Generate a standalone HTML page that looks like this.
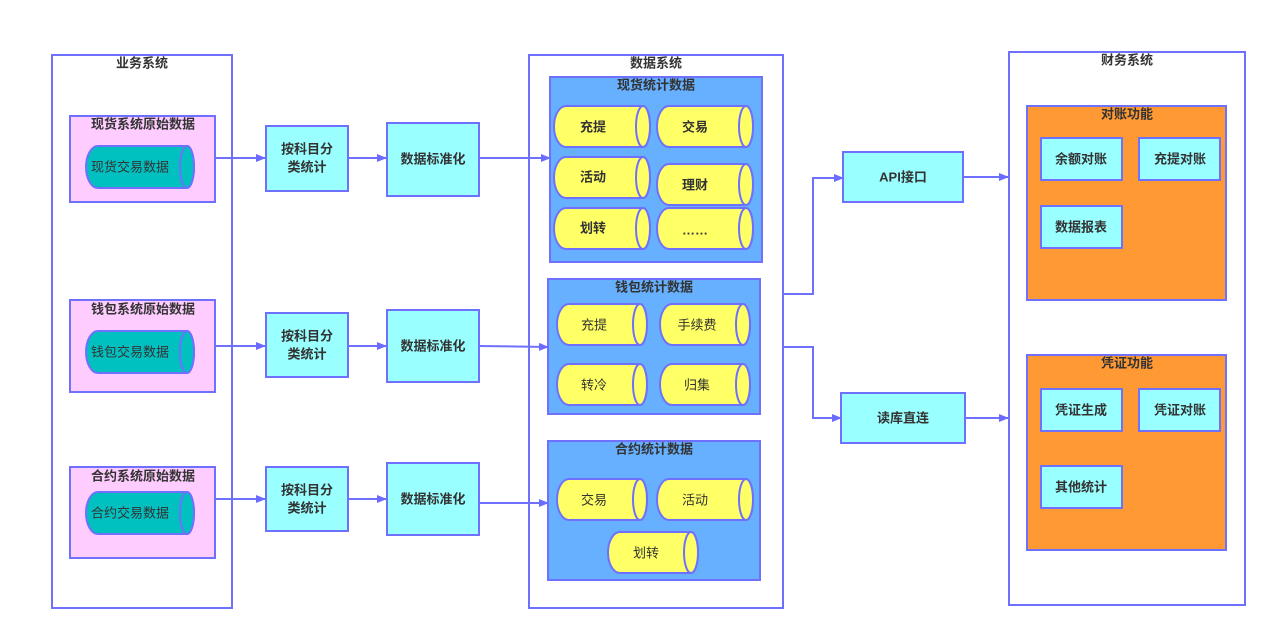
<!DOCTYPE html>
<html><head><meta charset="utf-8"><style>
html,body{margin:0;padding:0;background:#fff;width:1280px;height:643px;overflow:hidden}
text{font-family:"Liberation Sans","Noto Sans CJK SC",sans-serif;fill:#333;text-anchor:middle;dominant-baseline:central}
</style></head><body>
<svg width="1280" height="643" viewBox="0 0 1280 643" xmlns="http://www.w3.org/2000/svg">
<defs><marker id="a" markerWidth="10" markerHeight="8" refX="9" refY="4" orient="auto" markerUnits="userSpaceOnUse"><path d="M0,0 L10,4 L0,8 Z" fill="#6b6bff"/></marker></defs>
<g stroke="#7070ff" stroke-width="2">
<rect x="52" y="55" width="180" height="553" fill="#fff"/>
<rect x="529" y="55" width="254" height="553" fill="#fff"/>
<rect x="1009" y="52" width="236" height="553" fill="#fff"/>
<rect x="70" y="116" width="145" height="86" fill="#ffccff"/>
<rect x="70" y="300" width="145" height="92" fill="#ffccff"/>
<rect x="70" y="467" width="145" height="91" fill="#ffccff"/>
<g fill="#00c0c0">
<path d="M98,146 L187,146 A7,21 0 0 1 187,188 L98,188 A12,21 0 0 1 98,146Z"/><ellipse cx="187" cy="167" rx="7" ry="21"/>
<path d="M98,331 L187,331 A7,21 0 0 1 187,373 L98,373 A12,21 0 0 1 98,331Z"/><ellipse cx="187" cy="352" rx="7" ry="21"/>
<path d="M98,492 L187,492 A7,21 0 0 1 187,534 L98,534 A12,21 0 0 1 98,492Z"/><ellipse cx="187" cy="513" rx="7" ry="21"/>
</g>
<g fill="#99ffff">
<rect x="266" y="126" width="82" height="65"/><rect x="266" y="313" width="82" height="64"/><rect x="266" y="467" width="82" height="64"/>
<rect x="387" y="123" width="92" height="73"/><rect x="387" y="310" width="92" height="72"/><rect x="387" y="463" width="92" height="72"/>
<rect x="843" y="152" width="120" height="50"/><rect x="841" y="393" width="124" height="50"/>
</g>
<g fill="#66b0ff">
<rect x="550" y="77" width="212" height="185"/><rect x="548" y="279" width="212" height="135"/><rect x="548" y="441" width="212" height="139"/>
</g>
<g fill="#ffff66">
<path d="M566,106 L643,106 A7,20.5 0 0 1 643,147 L566,147 A12,20.5 0 0 1 566,106Z"/><ellipse cx="643" cy="126.5" rx="7" ry="20.5"/>
<path d="M669,106 L746,106 A7,20.5 0 0 1 746,147 L669,147 A12,20.5 0 0 1 669,106Z"/><ellipse cx="746" cy="126.5" rx="7" ry="20.5"/>
<path d="M566,157 L643,157 A7,20.5 0 0 1 643,198 L566,198 A12,20.5 0 0 1 566,157Z"/><ellipse cx="643" cy="177.5" rx="7" ry="20.5"/>
<path d="M669,164 L746,164 A7,20.5 0 0 1 746,205 L669,205 A12,20.5 0 0 1 669,164Z"/><ellipse cx="746" cy="184.5" rx="7" ry="20.5"/>
<path d="M566,208 L643,208 A7,20.5 0 0 1 643,249 L566,249 A12,20.5 0 0 1 566,208Z"/><ellipse cx="643" cy="228.5" rx="7" ry="20.5"/>
<path d="M669,208 L746,208 A7,20.5 0 0 1 746,249 L669,249 A12,20.5 0 0 1 669,208Z"/><ellipse cx="746" cy="228.5" rx="7" ry="20.5"/>
<path d="M569,304 L640,304 A7,20.5 0 0 1 640,345 L569,345 A12,20.5 0 0 1 569,304Z"/><ellipse cx="640" cy="324.5" rx="7" ry="20.5"/>
<path d="M672,304 L743,304 A7,20.5 0 0 1 743,345 L672,345 A12,20.5 0 0 1 672,304Z"/><ellipse cx="743" cy="324.5" rx="7" ry="20.5"/>
<path d="M569,364 L640,364 A7,20.5 0 0 1 640,405 L569,405 A12,20.5 0 0 1 569,364Z"/><ellipse cx="640" cy="384.5" rx="7" ry="20.5"/>
<path d="M672,364 L743,364 A7,20.5 0 0 1 743,405 L672,405 A12,20.5 0 0 1 672,364Z"/><ellipse cx="743" cy="384.5" rx="7" ry="20.5"/>
<path d="M569,479 L640,479 A7,20.5 0 0 1 640,520 L569,520 A12,20.5 0 0 1 569,479Z"/><ellipse cx="640" cy="499.5" rx="7" ry="20.5"/>
<path d="M669,479 L746,479 A7,20.5 0 0 1 746,520 L669,520 A12,20.5 0 0 1 669,479Z"/><ellipse cx="746" cy="499.5" rx="7" ry="20.5"/>
<path d="M620,532 L691,532 A7,20.5 0 0 1 691,573 L620,573 A12,20.5 0 0 1 620,532Z"/><ellipse cx="691" cy="552.5" rx="7" ry="20.5"/>
</g>
<g fill="#ff9933"><rect x="1027" y="106" width="199" height="194"/><rect x="1027" y="355" width="199" height="195"/></g>
<g fill="#99ffff">
<rect x="1041" y="138" width="81" height="42"/><rect x="1139" y="138" width="81" height="42"/><rect x="1041" y="206" width="81" height="42"/>
<rect x="1041" y="389" width="81" height="42"/><rect x="1139" y="389" width="81" height="42"/><rect x="1041" y="466" width="81" height="42"/>
</g>
<g fill="none" marker-end="url(#a)">
<path d="M215,158 H265"/><path d="M348,158 H386"/><path d="M479,158 H550"/>
<path d="M215,346 H265"/><path d="M348,346 H386"/><path d="M479,346 L548,347"/>
<path d="M215,499 H265"/><path d="M348,499 H386"/><path d="M479,503 H548"/>
<path d="M783,294 H813 V178 H843"/><path d="M783,347 H813 V418 H841"/>
<path d="M963,177 H1008"/><path d="M965,418 H1008"/>
</g>
</g>
<g font-size="13" font-weight="bold">
<text x="142" y="63">业务系统</text><text x="656" y="63">数据系统</text><text x="1127" y="60">财务系统</text>
<text x="143" y="124">现货系统原始数据</text><text x="143" y="309">钱包系统原始数据</text><text x="143" y="476">合约系统原始数据</text>
<text x="130" y="167" font-weight="normal">现货交易数据</text><text x="130" y="352" font-weight="normal">钱包交易数据</text><text x="130" y="513" font-weight="normal">合约交易数据</text>
<text x="307" y="149">按科目分</text><text x="307" y="167">类统计</text>
<text x="307" y="336">按科目分</text><text x="307" y="354">类统计</text>
<text x="307" y="490">按科目分</text><text x="307" y="508">类统计</text>
<text x="433" y="159">数据标准化</text><text x="433" y="346">数据标准化</text><text x="433" y="499">数据标准化</text>
<text x="656" y="85">现货统计数据</text><text x="654" y="287">钱包统计数据</text><text x="654" y="449">合约统计数据</text>
<text x="593" y="127">充提</text><text x="695" y="127">交易</text><text x="593" y="177">活动</text><text x="695" y="185">理财</text><text x="593" y="228">划转</text><text x="695" y="230">……</text>
<text x="903" y="177">API接口</text><text x="903" y="418">读库直连</text>
<text x="1127" y="114">对账功能</text><text x="1127" y="363">凭证功能</text>
<text x="1081" y="159">余额对账</text><text x="1180" y="159">充提对账</text><text x="1081" y="227">数据报表</text>
<text x="1081" y="410">凭证生成</text><text x="1180" y="410">凭证对账</text><text x="1081" y="487">其他统计</text>
</g>
<g font-size="13">
<text x="594" y="325">充提</text><text x="697" y="325">手续费</text><text x="594" y="385">转冷</text><text x="697" y="385">归集</text>
<text x="594" y="500">交易</text><text x="695" y="500">活动</text><text x="646" y="553">划转</text>
</g>
</svg>
</body></html>
